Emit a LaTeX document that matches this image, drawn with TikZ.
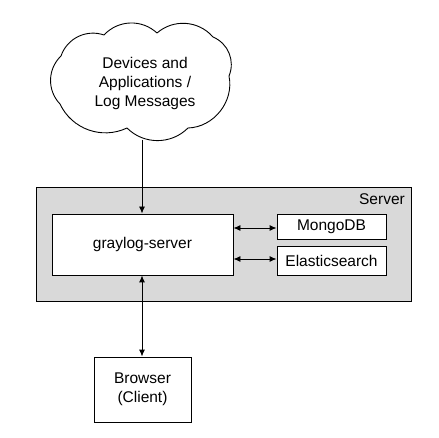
\documentclass[tikz,border=0pt]{standalone}
\usepackage{fontspec}
\setmainfont{Liberation Sans}
\usetikzlibrary{arrows.meta}
\definecolor{servergray}{RGB}{217,217,217}
\begin{document}
\begin{tikzpicture}[x=1pt,y=-1pt,
  every node/.style={font=\fontsize{15.5}{19}\selectfont, align=center, inner sep=0pt},
  box/.style={draw, fill=white, line width=0.9pt},
  tip/.tip={Latex[length=7pt,width=6pt]},
  conn/.style={line width=0.9pt, tip-tip},
  oneway/.style={line width=0.9pt, -tip},
  puff/.style={bend left=#1, looseness=1}]
\useasboundingbox (0,0) rectangle (439,438);
% cloud outline
\draw[line width=0.9pt, line join=round]
  (60,104) to[puff=45] (61,56)
  to[puff=45] (104,35)
  to[puff=45] (157,33)
  to[puff=45] (213,37)
  to[puff=45] (229,76)
  to[puff=50] (188,128)
  to[puff=45] (127,128)
  to[puff=45] cycle;
\node (cloud) at (145,83) {Devices and\\Applications /\\Log Messages};
\coordinate (cb) at (142,140);
\node[draw, fill=servergray, line width=0.9pt, minimum width=375pt, minimum height=114pt] (server) at (223.5,244) {};
\node[anchor=base east] (slabel) at (405,205) {Server};
\node[box, minimum width=181pt, minimum height=61pt] (gs) at (142.5,244.5) {graylog-server};
\node[box, minimum width=109pt, minimum height=25pt] (mongo) at (331.5,226.5) {MongoDB};
\node[box, minimum width=109pt, minimum height=29pt] (es) at (331.5,260.5) {Elasticsearch};
\node[box, minimum width=97pt, minimum height=65pt] (browser) at (142.5,389.5) {Browser\\(Client)};
\draw[oneway] (cb) -- (gs.north -| cb);
\draw[conn] (gs.south -| cb) -- (browser.north -| cb);
\draw[conn] ([yshift=-1.5pt]gs.east |- mongo.west) -- ([yshift=-1.5pt]mongo.west);
\draw[conn] ([yshift=1.5pt]gs.east |- es.west) -- ([yshift=1.5pt]es.west);
\end{tikzpicture}
\end{document}
